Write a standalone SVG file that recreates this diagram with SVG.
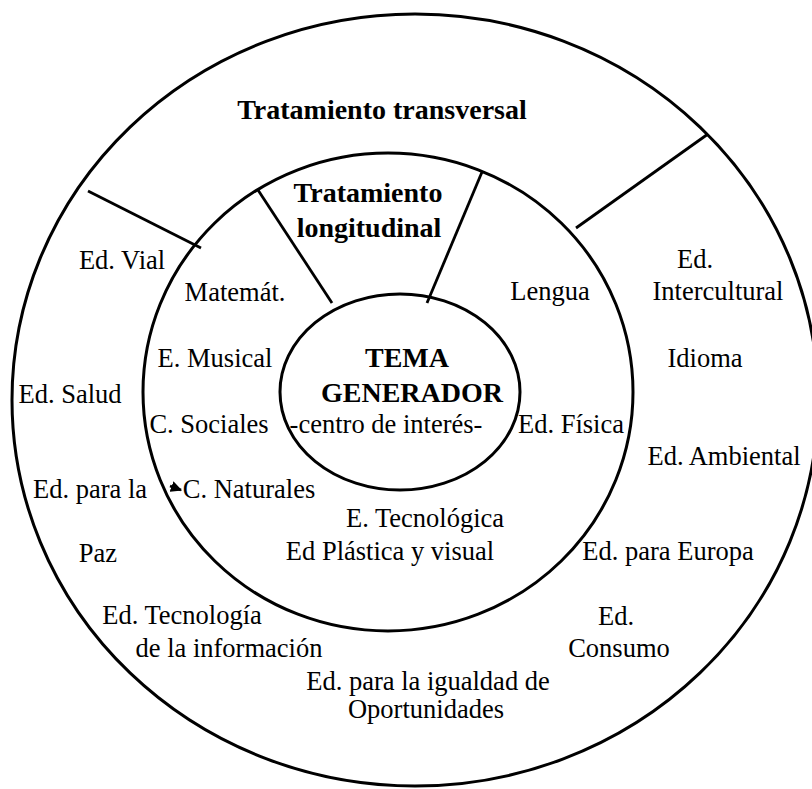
<svg xmlns="http://www.w3.org/2000/svg" width="812" height="789" viewBox="0 0 812 789">
  <style>
    .ring { fill: none; stroke: #000; stroke-width: 3; }
    .link { stroke: #000; stroke-width: 2.8; stroke-linecap: butt; fill: none; }
    .t { font-family: "Liberation Serif", "Times New Roman", serif; font-size: 26.5px; fill: #000; text-anchor: middle; }
    .b { font-family: "Liberation Serif", "Times New Roman", serif; font-size: 28px; font-weight: bold; fill: #000; text-anchor: middle; }
  </style>
  <defs>
    <marker id="tip" viewBox="0 0 10 10" refX="9" refY="5" markerWidth="4" markerHeight="4" orient="auto">
      <path d="M0,0 L10,5 L0,10 z" fill="#000"/>
    </marker>
  </defs>
  <rect width="812" height="789" fill="#fff"/>

  <!-- outer ring: cross-curricular themes -->
  <g id="transversal">
    <ellipse class="ring" cx="415" cy="400" rx="403" ry="386"/>
    <text class="b" x="382" y="119">Tratamiento transversal</text>
    <text class="t" x="122" y="269">Ed. Vial</text>
    <text class="t" x="695" y="268">Ed.</text>
    <text class="t" x="718" y="300">Intercultural</text>
    <text class="t" x="705" y="367">Idioma</text>
    <text class="t" x="70" y="403">Ed. Salud</text>
    <text class="t" x="724" y="465">Ed. Ambiental</text>
    <text class="t" x="90" y="498">Ed. para la</text>
    <text class="t" x="98" y="562">Paz</text>
    <text class="t" x="668" y="560">Ed. para Europa</text>
    <text class="t" x="182" y="624">Ed. Tecnología</text>
    <text class="t" x="229" y="657">de la información</text>
    <text class="t" x="616" y="625">Ed.</text>
    <text class="t" x="619" y="657">Consumo</text>
    <text class="t" x="428" y="690">Ed. para la igualdad de</text>
    <text class="t" x="426" y="718">Oportunidades</text>
  </g>

  <!-- middle ring: subject areas -->
  <g id="longitudinal">
    <ellipse class="ring" cx="388" cy="392" rx="245" ry="239"/>
    <text class="b" x="368" y="202">Tratamiento</text>
    <text class="b" x="369" y="237">longitudinal</text>
    <text class="t" x="235" y="301">Matemát.</text>
    <text class="t" x="550" y="300">Lengua</text>
    <text class="t" x="215" y="367">E. Musical</text>
    <text class="t" x="209" y="433">C. Sociales</text>
    <text class="t" x="571" y="433">Ed. Física</text>
    <text class="t" x="249" y="498">C. Naturales</text>
    <text class="t" x="425" y="527">E. Tecnológica</text>
    <text class="t" x="390" y="560">Ed Plástica y visual</text>
  </g>

  <!-- core: generating theme -->
  <g id="tema-generador">
    <ellipse class="ring" cx="400" cy="392" rx="120" ry="98"/>
    <text class="b" x="407" y="367">TEMA</text>
    <text class="b" x="412" y="402">GENERADOR</text>
    <text class="t" x="386" y="433">-centro de interés-</text>
  </g>

  <!-- dividing strokes between the rings -->
  <g id="connectors">
    <line class="link" x1="88" y1="191" x2="201" y2="248"/>
    <line class="link" x1="708" y1="134" x2="576" y2="228"/>
    <line class="link" x1="258" y1="190" x2="332" y2="303"/>
    <line class="link" x1="482" y1="172" x2="427" y2="303"/>
    <line class="link" x1="170" y1="486" x2="181" y2="490" stroke-width="2" marker-end="url(#tip)"/>
  </g>
</svg>
